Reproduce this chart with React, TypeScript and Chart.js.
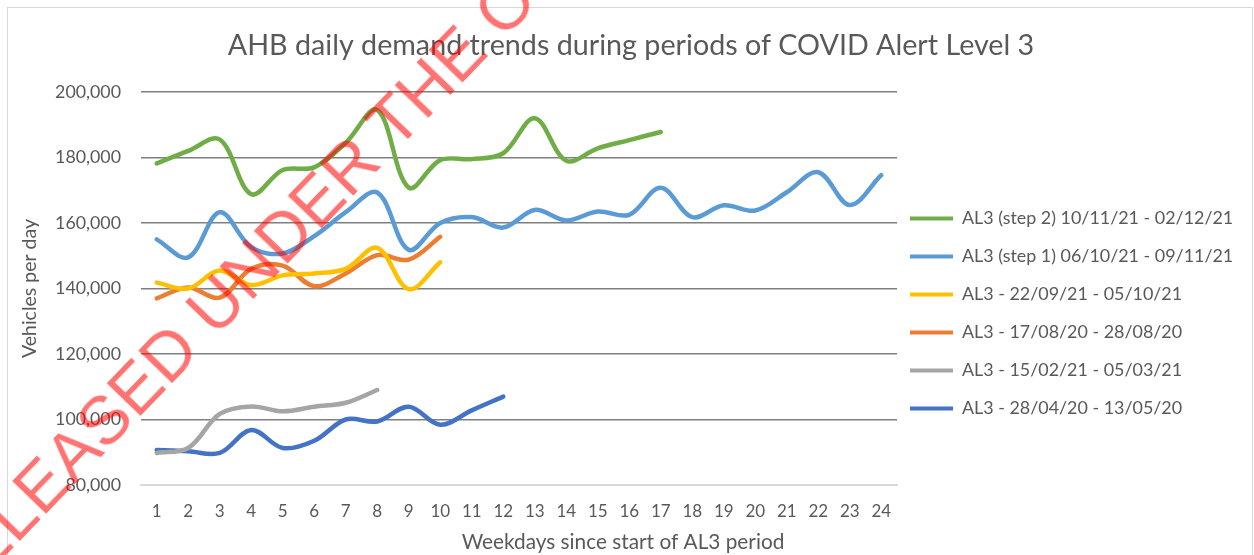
import { useEffect, useRef } from 'react';
import { Chart, registerables } from 'chart.js';

Chart.register(...registerables);

const FONT = 'Lato, "Open Sans", sans-serif';
const TEXT_COLOR = '#595959';

const chartTitle = 'AHB daily demand trends during periods of COVID Alert Level 3';
const xAxisTitle = 'Weekdays since start of AL3 period';
const yAxisTitle = 'Vehicles per day';

const categories = ['1', '2', '3', '4', '5', '6', '7', '8', '9', '10', '11', '12', '13', '14', '15', '16', '17', '18', '19', '20', '21', '22', '23', '24'];

const seriesNames = [
  'AL3 (step 2) 10/11/21 - 02/12/21',
  'AL3 (step 1) 06/10/21 - 09/11/21',
  'AL3 - 22/09/21 - 05/10/21',
  'AL3 - 17/08/20 - 28/08/20',
  'AL3 - 15/02/21 - 05/03/21',
  'AL3 - 28/04/20 - 13/05/20',
];

const seriesColors = ['#70AD47', '#5B9BD5', '#FFC000', '#ED7D31', '#A5A5A5', '#4472C4'];

const step2Nov21 = [178200, 182000, 185500, 168800, 176200, 177000, 184500, 194500, 170800, 179200, 179500, 181300, 192000, 179000, 182800, 185300, 187800];
const step1Oct21 = [155000, 149500, 163300, 152600, 150700, 156000, 163300, 169300, 151800, 160000, 161800, 158600, 164000, 160800, 163500, 162500, 170800, 161800, 165400, 163800, 169400, 175500, 165500, 174600];
const sep21 = [141800, 140000, 145500, 141000, 144000, 144600, 146000, 152400, 139800, 148000];
const aug20 = [137000, 140300, 137200, 146000, 147000, 140700, 144600, 150200, 148800, 155800];
const feb21 = [89800, 91300, 101700, 104000, 102500, 103900, 105100, 109000];
const apr20 = [90700, 90300, 89800, 96800, 91300, 93500, 100000, 99400, 103900, 98400, 102800, 107000];

const seriesValues = [step2Nov21, step1Oct21, sep21, aug20, feb21, apr20];

const yMin = 80000;
const yMax = 200000;
const yStep = 20000;

const LEGEND_FONT_SIZE = 17.9;

export default function App() {
  const ref = useRef<HTMLCanvasElement | null>(null);

  useEffect(() => {
    document.body.style.margin = '0';
    const canvas = ref.current;
    if (!canvas) return;

    const textPlugin = {
      id: 'extraTexts',
      afterLayout(chart: any) {
        const lg = chart.legend;
        if (lg) {
          lg.right = chart.width;
          lg.width = lg.right - lg.left;
        }
      },
      afterDraw(chart: any) {
        const ctx = chart.ctx;
        ctx.save();
        ctx.fillStyle = TEXT_COLOR;
        ctx.textAlign = 'center';
        ctx.textBaseline = 'middle';
        ctx.font = `28.7px ${FONT}`;
        ctx.fillText(chartTitle, 631, 46);
        ctx.font = `20.8px ${FONT}`;
        ctx.fillText(xAxisTitle, 623, 542);
        ctx.restore();
      },
    };

    const chart = new Chart(canvas, {
      type: 'line',
      data: {
        labels: categories,
        datasets: seriesNames.map((name, i) => ({
          label: name,
          data: seriesValues[i],
          borderColor: seriesColors[i],
          backgroundColor: seriesColors[i],
          borderWidth: 4.5,
          pointRadius: 0,
          pointHoverRadius: 0,
          tension: 0.35,
          fill: false,
          borderCapStyle: 'round',
          borderJoinStyle: 'round',
        })),
      },
      options: {
        animation: false,
        responsive: false,
        devicePixelRatio: 1,
        layout: { padding: { top: 92, right: 237, bottom: 17.6, left: 0 } },
        plugins: {
          title: { display: false },
          tooltip: { enabled: false },
          legend: {
            display: true,
            position: 'right',
            align: 'center',
            maxWidth: 120,
            title: { display: true, text: ' ', font: { size: 4, lineHeight: 1 }, padding: { top: 0.8, bottom: 0 } },
            labels: {
              boxWidth: 43,
              boxHeight: 4,
              padding: 13,
              color: TEXT_COLOR,
              font: { family: FONT, size: LEGEND_FONT_SIZE, lineHeight: 25 / LEGEND_FONT_SIZE },
              generateLabels: (c: any) =>
                Chart.defaults.plugins.legend.labels.generateLabels(c).map((l: any) => ({
                  ...l,
                  text: [l.text],
                  fillStyle: l.strokeStyle,
                  lineWidth: 0,
                })),
            },
          },
        },
        scales: {
          x: {
            type: 'category',
            offset: true,
            grid: { display: false, drawTicks: false },
            border: { display: true, color: '#d9d9d9', width: 2 },
            ticks: { color: TEXT_COLOR, font: { family: FONT, size: 17 }, padding: 16, maxRotation: 0, autoSkip: false },
            title: { display: false },
          },
          y: {
            min: yMin,
            max: yMax,
            grid: {
              drawTicks: false,
              color: (ctx: any) => (ctx.tick && ctx.tick.value === yMin ? '#d9d9d9' : '#7f7f7f'),
              lineWidth: 1.6,
            },
            border: { display: false },
            ticks: {
              stepSize: yStep,
              color: TEXT_COLOR,
              font: { family: FONT, size: 17.8 },
              padding: 20,
              callback: (v: any) => Number(v).toLocaleString('en-US'),
            },
            title: {
              display: true,
              text: yAxisTitle,
              color: TEXT_COLOR,
              font: { family: FONT, size: 19.5 },
              padding: { top: 18.3, bottom: 0 },
            },
            afterFit: (scale: any) => {
              scale.width = 141;
            },
          },
        },
      },
      plugins: [textPlugin],
    } as any);

    return () => chart.destroy();
  }, []);

  return (
    <div style={{ position: 'absolute', left: 0, top: 0, width: 1254, height: 555, overflow: 'hidden', background: '#ffffff' }}>
      <div style={{ position: 'absolute', left: 7, top: 7, width: 1246, height: 560, border: '1px solid #d9d9d9', boxSizing: 'border-box' }} />
      <canvas ref={ref} width={1254} height={555} style={{ position: 'absolute', left: 0, top: 0 }} />
      <div
        style={{
          position: 'absolute',
          left: -50,
          top: 555,
          fontFamily: '"Liberation Sans", Arial, sans-serif',
          fontSize: 68,
          lineHeight: 1,
          whiteSpace: 'nowrap',
          color: 'rgba(255,0,0,0.55)',
          transform: 'rotate(-46deg)',
          transformOrigin: '0px 57.6px',
          pointerEvents: 'none',
        }}
      >
        RELEASED UNDER THE OFFICIAL INFORMATION ACT
      </div>
    </div>
  );
}
